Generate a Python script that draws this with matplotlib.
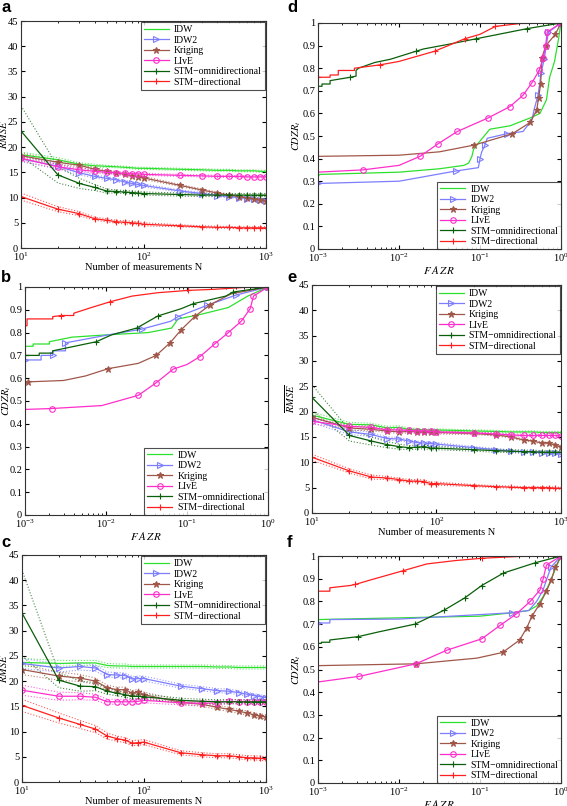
import matplotlib
matplotlib.use("Agg")
import matplotlib.pyplot as plt
import numpy as np
from matplotlib.ticker import FuncFormatter

plt.rcParams['font.family'] = ['Liberation Serif', 'DejaVu Serif']
plt.rcParams['mathtext.fontset'] = 'stix'
plt.rcParams['axes.linewidth'] = 0.8

# ---------------- data ----------------
methods = ["IDW", "IDW2", "Kriging", "LIvE", "STM\u2212omnidirectional", "STM\u2212directional"]
N = [10, 20, 30, 40, 50, 60, 70, 80, 90, 100, 200, 300, 400, 500, 600, 700, 800, 900, 1000]

# panel a: mean RMSE
a_idw  = [18.5, 17.5, 16.6, 16.3, 16.2, 16.1, 16.0, 15.9, 15.8, 15.8, 15.6, 15.5, 15.4, 15.4, 15.3, 15.3, 15.3, 15.2, 15.2]
a_idw2 = [17.7, 16.2, 14.9, 14.2, 13.8, 13.5, 13.1, 12.8, 12.6, 12.4, 11.3, 10.8, 10.4, 10.2, 10.0, 9.8, 9.7, 9.6, 9.4]
a_krig = [18.3, 17.0, 16.4, 15.6, 15.2, 14.9, 14.6, 14.3, 14.1, 13.9, 12.4, 11.5, 10.9, 10.5, 10.2, 9.9, 9.7, 9.5, 9.3]
a_live = [17.8, 16.1, 15.5, 15.2, 15.0, 14.9, 14.8, 14.7, 14.7, 14.6, 14.4, 14.3, 14.2, 14.2, 14.2, 14.1, 14.1, 14.1, 14.1]
a_omni = [23.2, 14.5, 12.8, 12.0, 11.3, 11.2, 11.1, 11.0, 10.9, 10.8, 10.6, 10.5, 10.5, 10.5, 10.5, 10.5, 10.5, 10.5, 10.5]
a_dir  = [10.2, 7.7, 6.8, 5.8, 5.5, 5.2, 5.1, 5.0, 4.9, 4.7, 4.4, 4.2, 4.1, 4.1, 4.0, 4.0, 4.0, 4.0, 4.0]
# panel a: half-width of confidence band
a_idw_hw  = [0.5, 0.4, 0.3, 0.3, 0.2, 0.2, 0.2, 0.2, 0.2, 0.2, 0.2, 0.2, 0.2, 0.2, 0.2, 0.2, 0.2, 0.2, 0.2]
a_idw2_hw = [0.6, 0.5, 0.4, 0.3, 0.3, 0.3, 0.3, 0.3, 0.3, 0.3, 0.2, 0.2, 0.2, 0.2, 0.2, 0.2, 0.2, 0.2, 0.2]
a_krig_hw = [0.5, 0.4, 0.3, 0.3, 0.3, 0.3, 0.3, 0.3, 0.3, 0.3, 0.2, 0.2, 0.2, 0.2, 0.2, 0.2, 0.2, 0.2, 0.2]
a_live_hw = [0.5, 0.4, 0.3, 0.3, 0.3, 0.2, 0.2, 0.2, 0.2, 0.2, 0.2, 0.2, 0.2, 0.2, 0.2, 0.2, 0.2, 0.2, 0.2]
a_omni_hw = [5.0, 1.6, 1.0, 0.6, 0.4, 0.3, 0.3, 0.3, 0.3, 0.3, 0.3, 0.3, 0.3, 0.3, 0.3, 0.3, 0.3, 0.3, 0.3]
a_dir_hw  = [0.7, 0.5, 0.4, 0.3, 0.3, 0.3, 0.3, 0.3, 0.3, 0.3, 0.2, 0.2, 0.2, 0.2, 0.2, 0.2, 0.2, 0.2, 0.2]

# panel c
c_idw  = [23.7, 23.5, 23.6, 23.6, 23.1, 23.0, 23.0, 22.9, 22.9, 22.9, 22.9, 22.9, 22.8, 22.8, 22.7, 22.7, 22.7, 22.7, 22.7]
c_idw2 = [23.5, 22.6, 22.9, 22.6, 21.3, 21.2, 21.1, 20.4, 20.5, 20.5, 19.0, 18.5, 18.1, 18.0, 17.7, 17.4, 17.1, 16.9, 16.7]
c_krig = [22.3, 21.0, 20.6, 20.0, 18.7, 18.3, 18.3, 17.6, 17.9, 17.3, 15.8, 15.4, 14.8, 14.4, 14.0, 13.7, 13.3, 13.1, 12.9]
c_live = [18.2, 17.0, 17.0, 16.8, 15.9, 15.9, 15.9, 15.9, 16.0, 16.2, 15.7, 15.6, 15.7, 16.0, 15.9, 15.9, 15.9, 15.9, 15.9]
c_omni = [33.5, 20.2, 19.0, 18.9, 18.0, 17.6, 17.3, 17.0, 17.0, 16.9, 16.2, 16.0, 15.9, 15.9, 15.9, 15.9, 15.9, 15.9, 15.9]
c_dir  = [15.2, 12.7, 11.4, 10.5, 9.1, 8.6, 8.3, 7.7, 7.8, 7.9, 5.8, 5.4, 5.2, 5.2, 5.0, 4.8, 4.8, 4.7, 4.6]
c_idw_hw  = [0.8, 0.6, 0.5, 0.5, 0.4, 0.4, 0.4, 0.3, 0.3, 0.3, 0.3, 0.3, 0.3, 0.3, 0.3, 0.3, 0.3, 0.3, 0.3]
c_idw2_hw = [1.0, 0.8, 0.7, 0.6, 0.5, 0.5, 0.5, 0.5, 0.5, 0.5, 0.4, 0.4, 0.4, 0.4, 0.4, 0.4, 0.4, 0.4, 0.4]
c_krig_hw = [1.0, 0.8, 0.7, 0.6, 0.5, 0.5, 0.5, 0.5, 0.5, 0.5, 0.4, 0.4, 0.4, 0.4, 0.4, 0.4, 0.4, 0.4, 0.4]
c_live_hw = [1.0, 0.8, 0.7, 0.6, 0.5, 0.5, 0.5, 0.5, 0.5, 0.5, 0.4, 0.4, 0.4, 0.4, 0.4, 0.4, 0.4, 0.4, 0.4]
c_omni_hw = [8.5, 1.5, 1.0, 0.8, 0.6, 0.5, 0.5, 0.5, 0.5, 0.5, 0.4, 0.4, 0.4, 0.4, 0.4, 0.4, 0.4, 0.4, 0.4]
c_dir_hw  = [1.2, 1.0, 0.8, 0.7, 0.6, 0.5, 0.5, 0.5, 0.5, 0.5, 0.4, 0.4, 0.4, 0.4, 0.4, 0.4, 0.4, 0.4, 0.4]

# panel e
e_idw  = [19.3, 17.5, 17.4, 16.8, 16.9, 16.5, 16.5, 16.4, 16.4, 16.4, 16.2, 16.1, 16.0, 16.0, 16.0, 15.9, 15.9, 15.9, 15.9]
e_idw2 = [18.4, 16.0, 15.5, 14.7, 14.6, 14.2, 13.9, 13.8, 13.7, 13.6, 12.9, 12.5, 12.2, 12.1, 12.0, 11.9, 11.9, 11.8, 11.6]
e_krig = [18.9, 16.8, 16.5, 16.2, 16.0, 16.1, 16.0, 15.9, 15.9, 15.9, 15.7, 15.4, 15.0, 14.4, 14.2, 13.8, 13.8, 13.4, 13.0]
e_live = [18.1, 17.1, 16.9, 16.4, 16.4, 16.3, 16.2, 16.2, 16.1, 16.0, 15.8, 15.6, 15.4, 15.3, 15.3, 15.3, 15.3, 15.3, 15.2]
e_omni = [22.8, 15.3, 14.2, 13.5, 13.1, 12.9, 13.0, 13.1, 12.8, 12.8, 12.5, 12.3, 12.2, 12.1, 12.1, 12.0, 12.0, 12.0, 12.0]
e_dir  = [11.0, 8.3, 7.1, 6.9, 6.6, 6.3, 6.3, 6.2, 5.8, 5.8, 5.4, 5.2, 5.1, 5.0, 5.0, 5.0, 5.0, 4.9, 4.9]
e_idw_hw  = [0.6, 0.4, 0.3, 0.3, 0.3, 0.3, 0.2, 0.2, 0.2, 0.2, 0.2, 0.2, 0.2, 0.2, 0.2, 0.2, 0.2, 0.2, 0.2]
e_idw2_hw = [0.6, 0.5, 0.4, 0.3, 0.3, 0.3, 0.3, 0.3, 0.3, 0.3, 0.2, 0.2, 0.2, 0.2, 0.2, 0.2, 0.2, 0.2, 0.2]
e_krig_hw = [0.6, 0.4, 0.3, 0.3, 0.3, 0.3, 0.3, 0.3, 0.3, 0.3, 0.2, 0.2, 0.2, 0.2, 0.2, 0.2, 0.2, 0.2, 0.2]
e_live_hw = [0.5, 0.4, 0.3, 0.3, 0.3, 0.2, 0.2, 0.2, 0.2, 0.2, 0.2, 0.2, 0.2, 0.2, 0.2, 0.2, 0.2, 0.2, 0.2]
e_omni_hw = [2.5, 1.1, 0.8, 0.6, 0.5, 0.4, 0.4, 0.4, 0.3, 0.3, 0.3, 0.3, 0.3, 0.3, 0.3, 0.3, 0.3, 0.3, 0.3]
e_dir_hw  = [0.6, 0.4, 0.4, 0.3, 0.3, 0.3, 0.3, 0.3, 0.3, 0.3, 0.2, 0.2, 0.2, 0.2, 0.2, 0.2, 0.2, 0.2, 0.2]

# CDZR_t vs FAZR curves: FAZR values, CDZR values, marker indices
b_idw_x  = [1e-3, 1.26e-3, 1.26e-3, 2.0e-3, 2.0e-3, 3.8e-3, 0.01, 0.0331, 0.0646, 0.0776, 0.148, 0.324, 0.562, 1.0]
b_idw_y  = [0.74, 0.74, 0.75, 0.75, 0.76, 0.78, 0.79, 0.80, 0.82, 0.86, 0.88, 0.91, 0.96, 1.0]
b_idw2_x = [1e-3, 1.58e-3, 1.58e-3, 2.2e-3, 2.2e-3, 3.16e-3, 3.16e-3, 0.0107, 0.0275, 0.0631, 0.0776, 0.178, 0.407, 1.0]
b_idw2_y = [0.68, 0.68, 0.70, 0.70, 0.72, 0.72, 0.755, 0.79, 0.815, 0.85, 0.87, 0.92, 0.965, 1.0]
b_krig_x = [1e-3, 1.1e-3, 3.0e-3, 5.6e-3, 0.0107, 0.025, 0.0417, 0.0617, 0.0851, 0.126, 0.195, 0.35, 1.0]
b_krig_y = [0.575, 0.584, 0.59, 0.61, 0.642, 0.665, 0.70, 0.755, 0.813, 0.872, 0.923, 0.97, 1.0]
b_live_x = [1e-3, 2.14e-3, 0.0089, 0.0251, 0.0417, 0.0676, 0.1, 0.145, 0.219, 0.324, 0.468, 0.603, 0.661, 1.0]
b_live_y = [0.463, 0.467, 0.48, 0.525, 0.58, 0.64, 0.66, 0.695, 0.75, 0.80, 0.85, 0.905, 0.96, 1.0]
b_omni_x = [1e-3, 1.5e-3, 1.5e-3, 2.2e-3, 2.2e-3, 7.6e-3, 0.0117, 0.024, 0.0437, 0.085, 0.12, 0.3, 0.372, 1.0]
b_omni_y = [0.70, 0.70, 0.71, 0.71, 0.72, 0.76, 0.79, 0.82, 0.873, 0.905, 0.927, 0.96, 0.978, 1.0]
b_dir_x  = [1e-3, 1.06e-3, 1.06e-3, 2.2e-3, 2.2e-3, 2.8e-3, 4.0e-3, 4.0e-3, 0.0066, 0.0112, 0.0209, 0.0437, 0.102, 0.22, 0.5, 1.0]
b_dir_y  = [0.83, 0.83, 0.86, 0.86, 0.87, 0.875, 0.875, 0.885, 0.91, 0.935, 0.96, 0.975, 0.985, 0.99, 0.998, 1.0]
b_marks = [[], [0, 3, 6, 8, 10, 11, 12, 13], [1, 4, 6, 7, 8, 9, 10, 12], [1, 3, 4, 5, 7, 8, 9, 10, 11, 12, 13], [0, 5, 7, 8, 10, 12], [5, 9, 12, 15]]

d_idw_x  = [1e-3, 1.05e-3, 0.01, 0.0316, 0.0631, 0.0724, 0.0794, 0.0832, 0.0912, 0.132, 0.234, 0.417, 0.55, 0.661, 0.724, 0.832, 0.933, 1.0]
d_idw_y  = [0.32, 0.33, 0.34, 0.355, 0.37, 0.38, 0.41, 0.44, 0.46, 0.53, 0.545, 0.58, 0.60, 0.66, 0.76, 0.83, 0.93, 1.0]
d_idw2_x = [1e-3, 0.01, 0.0501, 0.0955, 0.1, 0.105, 0.112, 0.115, 0.123, 0.214, 0.339, 0.437, 0.468, 0.52, 0.57, 0.62, 0.70, 1.0]
d_idw2_y = [0.29, 0.30, 0.345, 0.36, 0.40, 0.43, 0.45, 0.46, 0.49, 0.51, 0.52, 0.57, 0.62, 0.68, 0.78, 0.84, 0.96, 1.0]
d_krig_x = [1e-3, 0.01, 0.0316, 0.0851, 0.251, 0.417, 0.501, 0.53, 0.56, 0.58, 0.65, 0.851, 1.0]
d_krig_y = [0.41, 0.415, 0.43, 0.46, 0.51, 0.56, 0.615, 0.67, 0.73, 0.845, 0.90, 0.95, 1.0]
d_live_x = [1e-3, 3.55e-3, 0.01, 0.0182, 0.0302, 0.0525, 0.126, 0.234, 0.339, 0.437, 0.537, 0.603, 0.646, 0.676, 1.0]
d_live_y = [0.34, 0.35, 0.37, 0.41, 0.465, 0.52, 0.58, 0.63, 0.68, 0.735, 0.79, 0.845, 0.90, 0.96, 1.0]
d_omni_x = [1e-3, 1.12e-3, 1.12e-3, 1.41e-3, 1.41e-3, 2.51e-3, 2.95e-3, 2.95e-3, 3.16e-3, 5.0e-3, 7.9e-3, 0.0162, 0.02, 0.0398, 0.0891, 0.38, 1.0]
d_omni_y = [0.72, 0.72, 0.73, 0.73, 0.745, 0.76, 0.765, 0.79, 0.80, 0.825, 0.84, 0.875, 0.885, 0.905, 0.93, 0.975, 1.0]
d_dir_x  = [1e-3, 1e-3, 1.41e-3, 1.41e-3, 1.78e-3, 1.78e-3, 2.82e-3, 2.82e-3, 5.9e-3, 0.01, 0.0275, 0.0646, 0.1, 0.155, 0.316, 1.0]
d_dir_y  = [0.745, 0.76, 0.76, 0.77, 0.77, 0.79, 0.79, 0.80, 0.815, 0.83, 0.875, 0.93, 0.95, 0.985, 0.998, 1.0]
d_marks = [[], [0, 2, 4, 7, 9, 13, 14, 15, 16, 17], [3, 4, 5, 6, 7, 8, 9, 10, 11, 12], [1, 3, 4, 5, 6, 7, 8, 9, 10, 11, 12, 13, 14], [5, 11, 14, 15, 16], [1, 8, 10, 11, 13, 15]]

f_idw_x  = [1e-3, 0.1, 0.251, 0.4, 0.5, 0.6, 0.72, 0.87, 1.0]
f_idw_y  = [0.72, 0.735, 0.75, 0.76, 0.78, 0.82, 0.88, 0.95, 1.0]
f_idw2_x = [1e-3, 1e-3, 1.4e-3, 1.4e-3, 0.01, 0.251, 0.4, 0.5, 0.6, 0.75, 1.0]
f_idw2_y = [0.69, 0.705, 0.705, 0.72, 0.722, 0.75, 0.76, 0.80, 0.85, 0.95, 1.0]
f_krig_x = [1e-3, 0.0162, 0.0912, 0.19, 0.309, 0.38, 0.437, 0.55, 0.661, 0.759, 0.851, 1.0]
f_krig_y = [0.517, 0.525, 0.55, 0.575, 0.63, 0.685, 0.735, 0.79, 0.845, 0.895, 0.95, 1.0]
f_live_x = [1e-3, 3.24e-3, 0.0162, 0.0389, 0.105, 0.178, 0.282, 0.417, 0.55, 0.603, 0.661, 1.0]
f_live_y = [0.445, 0.47, 0.525, 0.585, 0.635, 0.695, 0.745, 0.80, 0.85, 0.90, 0.96, 1.0]
f_omni_x = [1e-3, 1e-3, 1.1e-3, 1.1e-3, 1.4e-3, 1.4e-3, 3.16e-3, 5.5e-3, 0.0158, 0.0355, 0.0646, 0.105, 0.195, 0.479, 1.0]
f_omni_y = [0.60, 0.615, 0.615, 0.62, 0.62, 0.63, 0.645, 0.665, 0.70, 0.76, 0.815, 0.87, 0.925, 0.97, 1.0]
f_dir_x  = [1e-3, 1.4e-3, 1.4e-3, 2.5e-3, 2.9e-3, 4.5e-3, 0.0112, 0.022, 0.05, 0.105, 0.3, 1.0]
f_dir_y  = [0.845, 0.845, 0.86, 0.87, 0.875, 0.895, 0.935, 0.965, 0.98, 0.99, 0.998, 1.0]
f_marks = [[], [1, 5, 9, 10], [1, 3, 4, 5, 6, 7, 8, 9, 10, 11], [1, 2, 3, 4, 5, 6, 7, 8, 9, 10, 11], [6, 8, 9, 10, 11, 12, 13], [4, 6, 9, 11]]

# ---------------- style ----------------
colors = ['#2ee02e', '#7d7dff', '#a0574a', '#ff2ecb', '#0a5f0a', '#ff1f1f']
markers = [None, '>', '*', 'o', '+', '+']
mfcs = ['none', 'none', None, 'none', None, None]
msizes = [0, 4, 4.5, 4, 5, 5]

fig = plt.figure(figsize=(5.67, 8.06), dpi=100)
W, H = 567.0, 806.0


def make_ax(l, r, t, b):
    return fig.add_axes([l / W, 1 - b / H, (r - l) / W, (b - t) / H])


def style_ax(ax):
    ax.set_xscale('log')
    ax.tick_params(which='both', direction='in', top=True, right=True, labelsize=7.5, pad=2)
    ax.tick_params(which='major', length=3)
    ax.tick_params(which='minor', length=1.6)
    for s in ax.spines.values():
        s.set_color('#333333')


def finish_legend(leg):
    leg.get_frame().set_edgecolor('#222222')
    leg.get_frame().set_linewidth(0.8)


def rmse_panel(ax, means, hws, ylab_x):
    style_ax(ax)
    for m, h, c in zip(means, hws, colors):
        m = np.array(m); h = np.array(h)
        ax.plot(N, m + h, ':', color=c, lw=0.8, alpha=0.75)
        ax.plot(N, m - h, ':', color=c, lw=0.8, alpha=0.75)
    for m, c, mk, mf, ms, name in zip(means, colors, markers, mfcs, msizes, methods):
        kw = dict(color=c, lw=0.9, label=name)
        if mk is not None:
            kw.update(marker=mk, ms=ms, mew=0.8)
            if mf == 'none':
                kw['mfc'] = 'none'
        ax.plot(N, m, '-', **kw)
    ax.set_xlim(10, 1000)
    ax.set_ylim(0, 45)
    ax.set_yticks(range(0, 46, 5))
    ax.set_ylabel(r'$\overline{RMSE}$', fontsize=7.5)
    ax.yaxis.set_label_coords(ylab_x, 0.5)
    ax.set_xlabel('Number of measurements N', fontsize=7.5, labelpad=0)
    leg = ax.legend(loc='upper right', fontsize=7, frameon=True, fancybox=False, borderaxespad=0.15,
                    handlelength=2.6, labelspacing=0.15, borderpad=0.3, handletextpad=0.5)
    finish_legend(leg)


def cdzr_panel(ax, xs, ys, marks, ylab_x):
    style_ax(ax)
    for x, y, mk_idx, c, mk, mf, ms, name in zip(xs, ys, marks, colors, markers, mfcs, msizes, methods):
        kw = dict(color=c, lw=0.9, label=name)
        if mk is not None:
            kw.update(marker=mk, ms=ms, mew=0.8, markevery=mk_idx)
            if mf == 'none':
                kw['mfc'] = 'none'
        ax.plot(x, y, '-', **kw)
    ax.set_xlim(1e-3, 1)
    ax.set_ylim(0, 1)
    ax.set_yticks(np.arange(0, 1.01, 0.1))
    ax.yaxis.set_major_formatter(FuncFormatter(lambda v, p: '%g' % round(v, 1)))
    ax.set_ylabel(r'$CDZR_t$', fontsize=7.5)
    ax.yaxis.set_label_coords(ylab_x, 0.5)
    ax.set_xlabel(r'$F\,A\,Z\,R$', fontsize=8, labelpad=0)
    leg = ax.legend(loc='lower right', fontsize=7, frameon=True, fancybox=False, borderaxespad=0.0,
                    handlelength=2.6, labelspacing=0.15, borderpad=0.3, handletextpad=0.5)
    finish_legend(leg)


ax_a = make_ax(21, 266, 21, 248)
rmse_panel(ax_a, [a_idw, a_idw2, a_krig, a_live, a_omni, a_dir],
           [a_idw_hw, a_idw2_hw, a_krig_hw, a_live_hw, a_omni_hw, a_dir_hw], -0.045)

ax_d = make_ax(318, 561, 23, 249)
cdzr_panel(ax_d, [d_idw_x, d_idw2_x, d_krig_x, d_live_x, d_omni_x, d_dir_x],
           [d_idw_y, d_idw2_y, d_krig_y, d_live_y, d_omni_y, d_dir_y], d_marks, -0.062)

ax_b = make_ax(25, 268, 287, 515)
cdzr_panel(ax_b, [b_idw_x, b_idw2_x, b_krig_x, b_live_x, b_omni_x, b_dir_x],
           [b_idw_y, b_idw2_y, b_krig_y, b_live_y, b_omni_y, b_dir_y], b_marks, -0.05)

ax_e = make_ax(312, 561, 285, 513)
rmse_panel(ax_e, [e_idw, e_idw2, e_krig, e_live, e_omni, e_dir],
           [e_idw_hw, e_idw2_hw, e_krig_hw, e_live_hw, e_omni_hw, e_dir_hw], -0.062)

ax_c = make_ax(22, 266, 555, 782)
rmse_panel(ax_c, [c_idw, c_idw2, c_krig, c_live, c_omni, c_dir],
           [c_idw_hw, c_idw2_hw, c_krig_hw, c_live_hw, c_omni_hw, c_dir_hw], -0.049)

ax_f = make_ax(318, 561, 556, 783)
cdzr_panel(ax_f, [f_idw_x, f_idw2_x, f_krig_x, f_live_x, f_omni_x, f_dir_x],
           [f_idw_y, f_idw2_y, f_krig_y, f_live_y, f_omni_y, f_dir_y], f_marks, -0.062)

for letter, (px, py) in zip('abcdef', [(1, 0), (1, 270), (1, 535), (287, 0), (287, 270), (287, 535)]):
    fig.text(px / W, 1 - py / H, letter, fontsize=12, fontweight='bold',
             family=['Liberation Sans', 'DejaVu Sans'], va='top', ha='left')

fig.savefig('out.png', dpi=100)
